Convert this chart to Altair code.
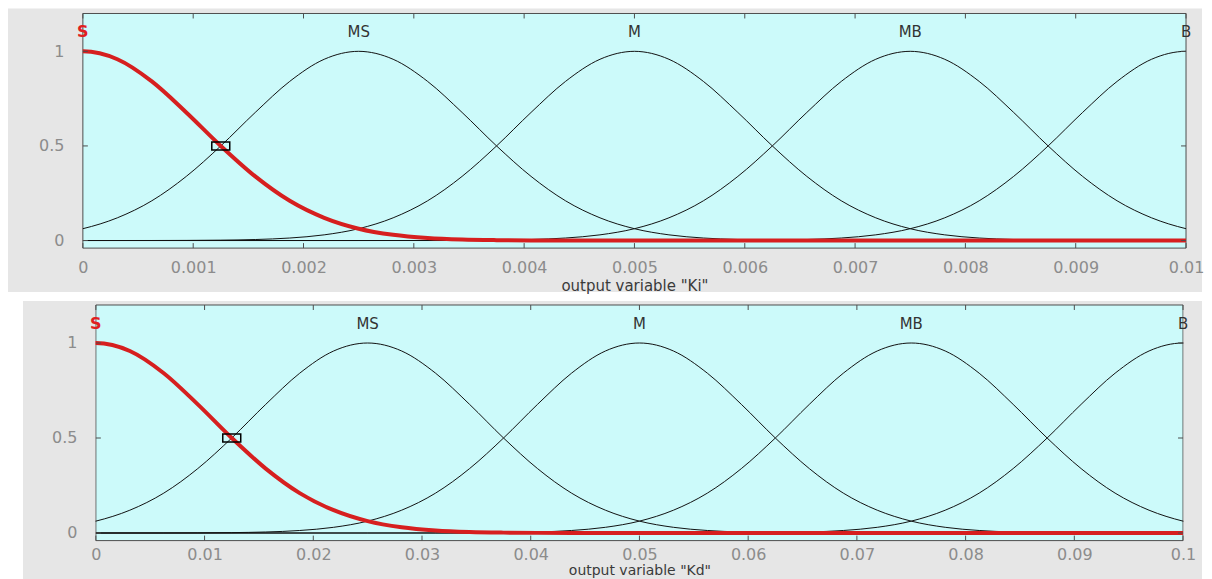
import altair as alt
import pandas as pd

# ---------------- data ----------------
mf_names = ["S", "MS", "M", "MB", "B"]
ki_centers = [0.0, 0.0025, 0.005, 0.0075, 0.01]
kd_centers = [0.0, 0.025, 0.05, 0.075, 0.1]
# membership degree, by distance from its peak (in MF spacings)
shape_offsets = [0, 0.125, 0.25, 0.375, 0.5, 0.625, 0.75, 0.875, 1.0,
                 1.125, 1.25, 1.375, 1.5, 1.625, 1.75, 2.0]
shape_degree = [1.0, 0.958, 0.841, 0.677, 0.5, 0.339, 0.21, 0.12, 0.0625,
                0.030, 0.0132, 0.0053, 0.002, 0.0007, 0.0002, 0.0]
ki_ticks = [0, 0.001, 0.002, 0.003, 0.004, 0.005, 0.006, 0.007, 0.008, 0.009, 0.01]
kd_ticks = [0, 0.01, 0.02, 0.03, 0.04, 0.05, 0.06, 0.07, 0.08, 0.09, 0.1]
y_ticks = [0, 0.5, 1]
ki_marker = [0.00125, 0.5]
kd_marker = [0.0125, 0.5]
label_level = 1.1
ki_title = 'output variable "Ki"'
kd_title = 'output variable "Kd"'

# ---------------- styles ----------------
GRAY = "#e6e6e6"
CYAN = "#ccfafa"
FRAME = "#4d4d4d"
FONT = "DejaVu Sans"
RECT_PATH = "M -1 -0.45 L 1 -0.45 L 1 0.45 L -1 0.45 Z"
VIEW_W = 1105


def curve_table(centers):
    lo, hi = centers[0], centers[-1]
    step = centers[1] - centers[0]
    offs = [-o for o in shape_offsets[::-1]] + shape_offsets[1:]
    degs = shape_degree[::-1] + shape_degree[1:]
    rows = []
    for name, c in zip(mf_names, centers):
        pts = [(c + o * step, d) for o, d in zip(offs, degs)]
        if pts[0][0] > lo + 1e-12:
            pts.insert(0, (lo, 0.0))
        if pts[-1][0] < hi - 1e-12:
            pts.append((hi, 0.0))
        for x, d in pts:
            rows.append({"name": name, "x": x, "mu": d})
    return pd.DataFrame(rows)


def panel(centers, ticks, marker, title, x0, x1, h, gray_left, top_pad, extra_bottom,
          label_pad, xlabel_pad, title_pad, title_size):
    df = curve_table(centers)
    xs = alt.Scale(domain=[centers[0], centers[-1]], range=[x0, x1], nice=False, zero=False)
    ys = alt.Scale(domain=[-0.04, 1.2], nice=False, zero=False)
    x_axis = alt.Axis(values=ticks, format="~g", labelFlush=False, ticks=False,
                      domain=False, grid=False, labelFont=FONT, labelFontSize=16,
                      labelColor="#8c8c8c", labelPadding=xlabel_pad, title=title,
                      titleFont=FONT, titleFontSize=title_size, titleFontWeight="normal",
                      titleColor="#3a3a3a", titlePadding=title_pad, zindex=2)
    y_axis = alt.Axis(values=y_ticks, format="~g", ticks=False, domain=False,
                      grid=False, labelFont=FONT, labelFontSize=16,
                      labelColor="#8c8c8c", labelPadding=label_pad, title=None, zindex=2)
    X = lambda f: alt.X(f, scale=xs, axis=x_axis)
    Y = lambda f: alt.Y(f, scale=ys, axis=y_axis)

    one = alt.Data(values=[{}])
    layers = []
    layers.append(alt.Chart(one).mark_rect(color=GRAY).encode(
        x=alt.value(gray_left), x2=alt.value(VIEW_W + 16),
        y=alt.value(-top_pad), y2=alt.value(h + extra_bottom)))
    layers.append(alt.Chart(one).mark_rect(fill=CYAN, stroke=FRAME, strokeWidth=1).encode(
        x=alt.value(x0), x2=alt.value(x1), y=alt.value(0), y2=alt.value(h)))

    base = alt.Chart(df)
    layers.append(base.transform_filter(alt.datum.name != "S").mark_line(
        color="#111111", strokeWidth=1, interpolate="monotone", clip=True).encode(
        x=X("x:Q"), y=Y("mu:Q"), detail="name:N"))
    layers.append(base.transform_filter(alt.datum.name == "S").mark_line(
        color="#d61f1f", strokeWidth=4, interpolate="monotone", clip=True).encode(
        x=X("x:Q"), y=Y("mu:Q")))

    # grey strips hiding curve ends that spill outside the plot box
    if x0 > 0:
        layers.append(alt.Chart(one).mark_rect(color=GRAY).encode(
            x=alt.value(-1), x2=alt.value(x0 - 0.5), y=alt.value(-1), y2=alt.value(h + 1)))
    if x1 < VIEW_W:
        layers.append(alt.Chart(one).mark_rect(color=GRAY).encode(
            x=alt.value(x1 + 0.5), x2=alt.value(VIEW_W + 1), y=alt.value(-1), y2=alt.value(h + 1)))

    tdf = pd.DataFrame({"x": ticks})
    layers.append(alt.Chart(tdf).mark_rule(color=FRAME).encode(
        x=X("x:Q"), y=alt.value(0), y2=alt.value(5)))
    layers.append(alt.Chart(tdf).mark_rule(color=FRAME).encode(
        x=X("x:Q"), y=alt.value(h - 5), y2=alt.value(h)))
    ydf = pd.DataFrame({"mu": y_ticks})
    layers.append(alt.Chart(ydf).mark_rule(color=FRAME).encode(
        y=Y("mu:Q"), x=alt.value(x0), x2=alt.value(x0 + 5)))
    layers.append(alt.Chart(ydf).mark_rule(color=FRAME).encode(
        y=Y("mu:Q"), x=alt.value(x1 - 5), x2=alt.value(x1)))

    mdf = pd.DataFrame({"x": [marker[0]], "mu": [marker[1]]})
    layers.append(alt.Chart(mdf).mark_point(
        shape=RECT_PATH, size=324, filled=False, color="black", strokeWidth=1.5,
        opacity=1).encode(x=X("x:Q"), y=Y("mu:Q")))

    ldf = pd.DataFrame({"x": centers, "mu": [label_level] * len(centers), "name": mf_names})
    layers.append(alt.Chart(ldf).transform_filter(alt.datum.name != "S").mark_text(
        font=FONT, fontSize=15, color="#333333", baseline="middle", align="center").encode(
        x=X("x:Q"), y=Y("mu:Q"), text="name:N"))
    layers.append(alt.Chart(ldf).transform_filter(alt.datum.name == "S").mark_text(
        font=FONT, fontSize=16, fontWeight="bold", color="#e02020", baseline="middle",
        align="center").encode(x=X("x:Q"), y=Y("mu:Q"), text="name:N"))

    return alt.layer(*layers).properties(width=VIEW_W, height=h)


top = panel(ki_centers, ki_ticks, ki_marker, ki_title, 0, 1105, 235, -75, 5, 44,
            19, 11, 3, 15)
bottom = panel(kd_centers, kd_ticks, kd_marker, kd_title, 13, 1102, 236, -60, 4, 60,
               6, 6, 1, 14)

chart = alt.vconcat(top, bottom, spacing=8).properties(
    padding=0, background="white"
).configure_view(stroke=None)

chart.save("out.html", embed_options={"renderer": "svg", "actions": False})
